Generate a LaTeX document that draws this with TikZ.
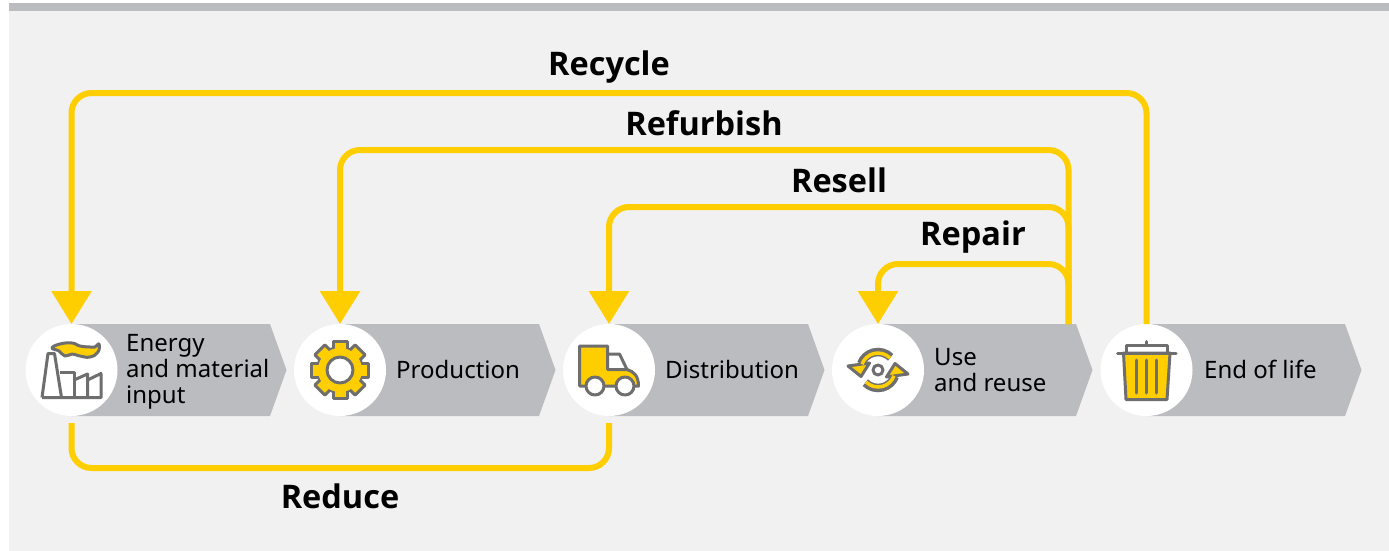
\documentclass[tikz,border=0pt]{standalone}
\usepackage{fontspec}
\setmainfont{Noto Sans}
\newfontfamily\flowfont{Open Sans}
\usetikzlibrary{arrows.meta,calc}
\definecolor{PanelClr}{HTML}{F1F1F1}
\definecolor{StageClr}{HTML}{BBBCC0}
\definecolor{FlowClr}{HTML}{FFCE00}
\definecolor{IconClr}{HTML}{6E6E6E}
\tikzset{
  StageDisc/.style={circle,fill=white,minimum size=92pt,inner sep=0pt,outer sep=0pt},
  StageLbl/.style={anchor=west,align=left,inner sep=0pt,font=\fontsize{24}{26}\selectfont,text=black},
  FlowLbl/.style={anchor=base,inner sep=0pt,font=\flowfont\fontsize{32.5}{34}\selectfont\bfseries,text=black},
  FlowLine/.style={draw=FlowClr,line width=6pt,rounded corners=20pt},
  FlowArrow/.style={FlowLine,-{Triangle[width=39pt,length=33pt,fill=FlowClr]}},
  IconLine/.style={draw=IconClr,line width=3pt,line join=round}
}

\begin{document}
\begin{tikzpicture}[x=1pt,y=-1pt]
\useasboundingbox (0,0) rectangle (1389,551);
\fill[PanelClr] (9,3) rectangle (1389,551);
\fill[StageClr] (9,3) rectangle (1389,11);

\foreach \cx/\sx in {71.5/270,340/539,609/808,878/1076,1146.5/1345}
  \fill[StageClr] (\cx,324) -- (\sx,324) -- ({\sx+16.5},370) -- (\sx,416) -- (\cx,416) -- cycle;

\node[StageDisc] (Energy) at (71.5,370) {};
\node[StageDisc] (Production) at (340,370) {};
\node[StageDisc] (Distribution) at (609,370) {};
\node[StageDisc] (Use) at (878,370) {};
\node[StageDisc] (End) at (1146.5,370) {};

\node[StageLbl] (EnergyLbl) at (126,372) {Energy\\and material\\input};
\node[StageLbl] (ProductionLbl) at (396,369) {Production};
\node[StageLbl] (DistributionLbl) at (665,369) {Distribution};
\node[StageLbl] (UseLbl) at (934,370) {Use\\and reuse};
\node[StageLbl] (EndLbl) at (1204,369) {End of life};

\coordinate (Branch) at (1068.5,324);
\coordinate (EnergyDown) at (71.5,423);
\coordinate (DistributionDown) at (609,423);

\draw[FlowArrow] (End.north) -- (1146.5,93) -- (71.5,93) -- (Energy.north);
\draw[FlowArrow] (Branch) -- (1068.5,150) -- (340,150) -- (Production.north);
\draw[FlowArrow] (Branch) -- (1068.5,207) -- (609,207) -- (Distribution.north);
\draw[FlowArrow] (Branch) -- (1068.5,264) -- (878,264) -- (Use.north);
\draw[FlowLine] (EnergyDown) -- (71.5,468) -- (609,468) -- (DistributionDown);

\node[FlowLbl] (RecycleLbl) at (609,75) {Recycle};
\node[FlowLbl] (RefurbishLbl) at (704,135) {Refurbish};
\node[FlowLbl] (ResellLbl) at (839,192) {Resell};
\node[FlowLbl] (RepairLbl) at (973,245) {Repair};
\node[FlowLbl] (ReduceLbl) at (340,508.5) {Reduce};

\draw[IconLine,fill=FlowClr] plot[smooth cycle,tension=.8] coordinates {(52,348) (60,344) (72,343) (80,346) (90,347) (95,347) (99,344) (98,352) (90,357) (80,356) (72,354) (65,356) (59,351)};
\draw[IconLine] (42,397.5) -- (48,353.5) -- (54.5,353.5) -- (61.5,397.5);
\draw[IconLine] (60,372) -- (74,372) -- (74,397.5);
\draw[IconLine] (74,380) -- (87.5,374) -- (87.5,397.5);
\draw[IconLine] (87.5,380) -- (101,373.5) -- (101,397.5) -- (42,397.5);

\draw[IconLine] (340,370) circle (22.5);
\foreach \a in {0,45,...,315}
  \draw[IconLine,fill=FlowClr,rotate around={\a:(340,370)}] (333,350) -- (333,341.5) -- (347,341.5) -- (347,350);
\fill[FlowClr] (340,370) circle (22);
\draw[IconLine,fill=white] (340,370) circle (13);

\draw[IconLine,fill=FlowClr] (579.5,346) -- (607.5,346) -- (607.5,369.5) -- (627,369.5) .. controls (634,371.5) and (638.5,376) .. (638.5,386) -- (579.5,386) -- cycle;
\draw[IconLine] (607.5,354) -- (619.5,354) -- (627,369.5);
\draw[IconLine,fill=white] (595,386) circle (9);
\draw[IconLine,fill=white] (625,386) circle (9);

\foreach \a in {0,180} {
  \begin{scope}[rotate around={\a:(878,370)}]
    \draw[draw=IconClr,line width=8.5pt] (890.7,357.3) arc[start angle=-45,end angle=-160,radius=18];
    \draw[IconLine,fill=FlowClr] (848,366) -- (861,376.5) -- (869.5,363) -- cycle;
    \draw[draw=FlowClr,line width=3.5pt] (890,358) arc[start angle=-45,end angle=-160,radius=17];
  \end{scope}
}
\draw[IconLine,fill=white] (878,370) circle (5);

\draw[IconLine,fill=FlowClr] (1123.5,353) -- (1170,353) -- (1167,399.5) -- (1126,399.5) -- cycle;
\draw[IconLine] (1126,353) -- (1126,345) -- (1167,345) -- (1167,353);
\draw[IconLine,line cap=round] (1146.5,345) -- (1146.5,341.5);
\draw[IconLine,line cap=round] (1117.5,353) -- (1176,353);
\foreach \lx in {1136.5,1146.5,1156}
  \draw[IconLine,line cap=round] (\lx,360) -- (\lx,393);
\end{tikzpicture}
\end{document}
